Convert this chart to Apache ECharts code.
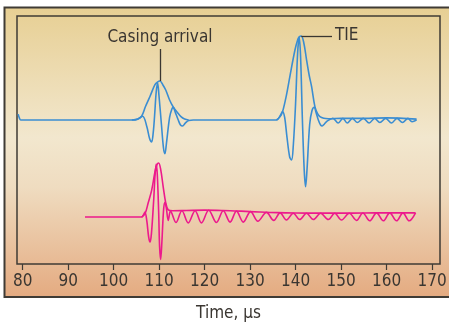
<!DOCTYPE html>
<html>
<head>
<meta charset="utf-8">
<script src="https://cdn.jsdelivr.net/npm/echarts@6/dist/echarts.min.js"></script>
<style>
  html, body { margin: 0; padding: 0; background: #ffffff; }
  #chart { width: 449px; height: 322px; }
</style>
</head>
<body>
<div id="chart"></div>
<script>
// Time axis ticks (µs)
const TIME_TICKS = [80, 90, 100, 110, 120, 130, 140, 150, 160, 170];

// Upper trace: waveform [time µs, amplitude], amplitude normalised to the TIE peak
const UPPER_WAVE = [
  [79.0, 0.07], [79.3, 0.02], [79.56, 0], [104.0, 0], [105.3, 0.01], [106.37, 0.045],
  [107.3, -0.08], [107.9, -0.22], [108.35, -0.26], [108.7, -0.15], [109.0, 0.05],
  [109.35, 0.33], [109.67, 0.44], [109.95, 0.3], [110.5, -0.05], [110.95, -0.33],
  [111.27, -0.40], [111.6, -0.28], [112.3, 0.03], [112.8, 0.13], [113.1, 0.15],
  [113.5, 0.1], [114.2, 0.0], [114.7, -0.06], [115.16, -0.071], [115.7, -0.04],
  [116.5, -0.005], [117.5, 0], [135.8, 0], [136.6, 0.05], [137.14, 0.1], [137.6, 0.03],
  [138.1, -0.2], [138.7, -0.44], [139.12, -0.476], [139.5, -0.3], [140.0, 0.2],
  [140.45, 0.8], [140.8, 0.985], [141.1, 0.75], [141.5, 0.0], [141.9, -0.6],
  [142.2, -0.794], [142.5, -0.6], [143.1, -0.05], [143.6, 0.11], [144.09, 0.151],
  [144.5, 0.09], [145.0, 0.0], [145.5, -0.06], [145.85, -0.071], [146.3, -0.05],
  [147.0, -0.01], [148.2, 0.02], [149.37, -0.035], [150.4, 0.02], [151.35, -0.035],
  [152.5, 0.02], [153.54, -0.03], [154.9, 0.02], [156.18, -0.035], [157.4, 0.02],
  [158.53, -0.03], [159.8, 0.02], [161.1, -0.035], [162.3, 0.02], [163.5, -0.03],
  [164.7, 0.02], [165.6, -0.02], [166.6, 0.0]
];

// Upper trace: envelope around the casing arrival
const UPPER_ENV_CASING = [
  [104.0, 0], [105.3, 0.012], [106.15, 0.045], [107.0, 0.16], [107.98, 0.28],
  [109.08, 0.42], [109.7, 0.455], [110.18, 0.464], [110.8, 0.42], [111.45, 0.357],
  [112.3, 0.238], [113.1, 0.155], [114.0, 0.09], [114.8, 0.04], [115.6, 0.012], [116.5, 0]
];

// Upper trace: envelope around the TIE arrival and its tail
const UPPER_ENV_TIE = [
  [135.8, 0], [136.6, 0.04], [137.14, 0.1], [138.0, 0.3], [138.75, 0.52], [139.85, 0.83],
  [140.5, 0.96], [140.8, 0.99], [141.25, 1.0], [141.8, 0.92], [142.42, 0.714], [143.0, 0.53],
  [143.52, 0.397], [144.25, 0.159], [144.8, 0.08], [145.35, 0.04], [146.2, 0.02],
  [147.2, 0.015], [150.0, 0.02], [155.0, 0.02], [160.0, 0.025], [166.6, 0.01]
];

// Lower trace: waveform
const LOWER_WAVE = [
  [93.7, 0], [106.15, 0], [106.6, 0.03], [106.89, 0.06], [107.3, -0.05], [107.7, -0.24],
  [107.99, -0.298], [108.3, -0.2], [108.8, 0.2], [109.1, 0.5], [109.35, 0.63], [109.6, 0.5],
  [109.9, 0.05], [110.1, -0.35], [110.33, -0.505], [110.6, -0.3], [111.0, 0.1], [111.3, 0.175],
  [111.6, 0.1], [112.0, -0.04], [112.5, 0.07], [113.7, -0.065], [115.0, 0.075], [116.4, -0.07],
  [117.9, 0.075], [119.3, -0.07], [120.9, 0.08], [122.6, -0.065], [124.1, 0.075], [125.6, -0.06],
  [127.0, 0.07], [128.5, -0.06], [130.1, 0.065], [131.7, -0.05], [133.6, 0.055], [135.2, -0.04],
  [136.6, 0.05], [138.0, -0.035], [139.5, 0.045], [140.9, -0.03], [142.4, 0.045], [143.9, -0.03],
  [145.5, 0.045], [147.2, -0.03], [148.6, 0.045], [150.1, -0.035], [151.8, 0.045], [153.4, -0.04],
  [154.8, 0.048], [156.3, -0.045], [157.8, 0.05], [159.3, -0.045], [160.7, 0.05], [162.2, -0.045],
  [163.6, 0.05], [164.97, -0.045], [166.37, 0.05]
];

// Lower trace: envelope
const LOWER_ENV = [
  [106.15, 0], [106.9, 0.04], [107.6, 0.17], [108.35, 0.318], [109.08, 0.536], [109.5, 0.62],
  [109.9, 0.643], [110.33, 0.57], [110.9, 0.357], [111.43, 0.175], [112.0, 0.085], [113.0, 0.075],
  [116.0, 0.078], [120.0, 0.082], [124.0, 0.078], [128.0, 0.07], [132.0, 0.06], [136.0, 0.052],
  [140.0, 0.048], [145.0, 0.046], [150.0, 0.046], [155.0, 0.048], [160.0, 0.05], [166.37, 0.05]
];

// Annotation anchors [time µs, amplitude]
const CASING_LABEL = 'Casing arrival';
const CASING_PEAK = [110.18, 0.464];
const CASING_LEADER_TOP = 0.845;
const TIE_LABEL = 'TIE';
const TIE_PEAK = [141.25, 1.0];
const TIE_LEADER_END = 148.0;

// Vertical placement of the two traces
const UPPER_BASE = 0;
const LOWER_BASE = -1.155;

const BLUE = '#3a8dd2';
const PINK = '#ec1a8c';
const INK = '#3a3631';
const FONT = "'Liberation Sans Narrow', 'Arial Narrow', 'DejaVu Sans Condensed', sans-serif";

const shift = (arr, base) => arr.map(([t, a]) => [t, a + base]);

function trace(data, color, extra) {
  return Object.assign({
    type: 'line',
    data: data,
    smooth: 0.35,
    showSymbol: false,
    symbol: 'none',
    silent: true,
    lineStyle: { color: color, width: 1.6 },
    emphasis: { disabled: true },
    z: 3
  }, extra || {});
}

function leader(from, to, text) {
  return {
    silent: true,
    symbol: ['none', 'none'],
    lineStyle: { color: INK, width: 1.3, type: 'solid' },
    label: {
      show: true, position: 'end', formatter: text,
      fontSize: 17, color: INK, fontFamily: FONT, distance: 3
    },
    emphasis: { disabled: true },
    data: [[{ coord: from }, { coord: to }]]
  };
}

const chart = echarts.init(document.getElementById('chart'), null, { renderer: 'canvas' });

chart.setOption({
  animation: false,
  backgroundColor: '#ffffff',
  graphic: [{
    type: 'rect',
    z: -10,
    silent: true,
    shape: { x: 4.5, y: 7.5, width: 470, height: 289.5 },
    style: {
      fill: new echarts.graphic.LinearGradient(0, 0, 0, 1, [
        { offset: 0, color: '#e7cf93' },
        { offset: 0.45, color: '#f2e7ce' },
        { offset: 0.62, color: '#efdcc0' },
        { offset: 1, color: '#e4aa80' }
      ]),
      stroke: '#3f3b35',
      lineWidth: 2
    }
  }],
  grid: {
    left: 17, top: 16, right: 9, bottom: 58,
    outerBoundsMode: 'none',
    containLabel: false,
    show: true,
    borderColor: '#3f3b35',
    borderWidth: 1.5,
    backgroundColor: 'transparent'
  },
  xAxis: {
    type: 'value',
    min: 78.75,
    max: 171.75,
    name: 'Time, µs',
    nameLocation: 'middle',
    nameGap: 41,
    nameTextStyle: { fontSize: 17, color: INK, fontFamily: FONT },
    axisLine: { show: false, onZero: false },
    axisTick: {
      show: true, inside: false, length: 6,
      customValues: TIME_TICKS,
      lineStyle: { color: '#3f3b35', width: 1.2 }
    },
    axisLabel: {
      customValues: TIME_TICKS,
      fontSize: 17, color: INK, fontFamily: FONT, margin: 9
    },
    splitLine: { show: false }
  },
  yAxis: {
    type: 'value',
    min: -1.714,
    max: 1.238,
    show: false,
    splitLine: { show: false }
  },
  series: [
    trace(shift(UPPER_WAVE, UPPER_BASE), BLUE),
    trace(shift(UPPER_ENV_CASING, UPPER_BASE), BLUE, {
      markLine: leader(
        [CASING_PEAK[0], CASING_PEAK[1] + UPPER_BASE],
        [CASING_PEAK[0], CASING_LEADER_TOP + UPPER_BASE],
        CASING_LABEL)
    }),
    trace(shift(UPPER_ENV_TIE, UPPER_BASE), BLUE, {
      markLine: leader(
        [TIE_PEAK[0], TIE_PEAK[1] + UPPER_BASE],
        [TIE_LEADER_END, TIE_PEAK[1] + UPPER_BASE],
        TIE_LABEL)
    }),
    trace(shift(LOWER_WAVE, LOWER_BASE), PINK),
    trace(shift(LOWER_ENV, LOWER_BASE), PINK)
  ]
});
</script>
</body>
</html>
